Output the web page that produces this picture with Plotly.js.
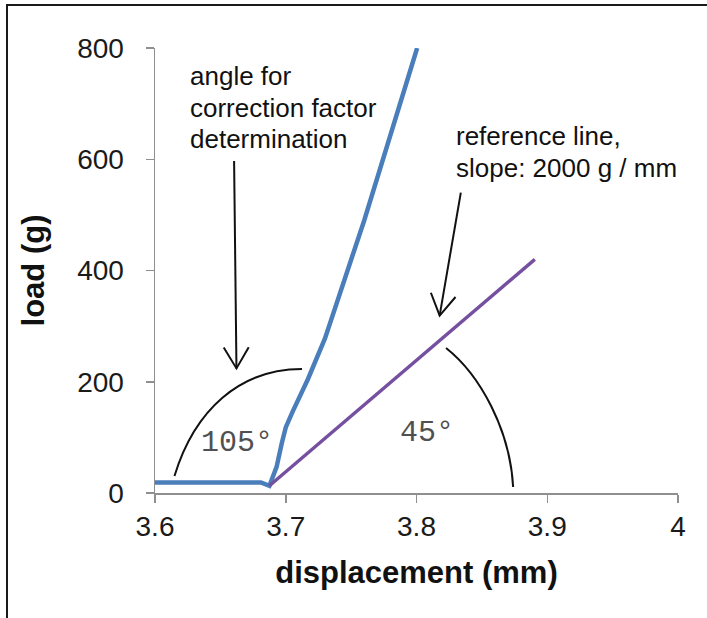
<!DOCTYPE html>
<html>
<head>
<meta charset="utf-8">
<script src="https://cdn.plot.ly/plotly-3.0.1.min.js"></script>
<style>
  html, body { margin: 0; padding: 0; background: #fff; }
  #wrap { position: relative; width: 707px; height: 618px; overflow: hidden; }
  #chart { position: absolute; left: 0; top: 0; width: 707px; height: 618px; }
  #frame { position: absolute; left: 6px; top: 4px; width: 710px; height: 620px;
           border-top: 2px solid #1a1a1a; border-left: 2px solid #1a1a1a; pointer-events: none; }
</style>
</head>
<body>
<div id="wrap">
  <div id="chart"></div>
  <div id="frame"></div>
</div>
<script>
// ---- data ----
const displacement = [3.600, 3.681, 3.6875, 3.6930, 3.6970, 3.7000, 3.7050, 3.7170, 3.7300, 3.7600, 3.8005];
const load         = [19,    19,    13,     47,     90,     118,    145,    205,    278,    490,    800];

const refDisplacement = [3.6875, 3.8905];
const refLoad         = [13,     420];

const xTickVals = [3.6, 3.7, 3.8, 3.9, 4];
const xTickText = ['3.6', '3.7', '3.8', '3.9', '4'];
const yTickVals = [0, 200, 400, 600, 800];
const yTickText = ['0', '200', '400', '600', '800'];

const xRange = [3.6, 4];
const yRange = [0, 800];

// annotation geometry (data units)
const arc105 = [[3.6149, 30.6], [3.6303, 149.2], [3.6648, 222.9], [3.7124, 222.9]];
const arc45  = [[3.8226, 260.7], [3.8487, 212.1], [3.8716, 113.3], [3.8739, 10.8]];
const arrowAngle = {from: [3.6605, 597], to: [3.6623, 224]};
const arrowRef   = {from: [3.8339, 540], to: [3.8177, 319]};

// ---- layout constants ----
const M = {l: 155, r: 29, t: 48, b: 125};
const W = 707 - M.l - M.r, H = 618 - M.t - M.b;
const SANS = 'Liberation Sans, Arial, sans-serif';

function toPx(p) { return [(p[0] - xRange[0]) / (xRange[1] - xRange[0]) * W, (yRange[1] - p[1]) / (yRange[1] - yRange[0]) * H]; }
function fromPx(q) { return [xRange[0] + q[0] / W * (xRange[1] - xRange[0]), yRange[1] - q[1] / H * (yRange[1] - yRange[0])]; }

function bezierPath(pts) {
  const s = pts.map(p => p[0] + ',' + p[1]);
  return 'M' + s[0] + ' C' + s[1] + ' ' + s[2] + ' ' + s[3];
}

function arrowShapes(a) {
  const f = toPx(a.from), t = toPx(a.to);
  const dx = t[0] - f[0], dy = t[1] - f[1];
  const len = Math.hypot(dx, dy), ux = dx / len, uy = dy / len;
  const back = 21, half = 12.5;
  const b = [t[0] - ux * back, t[1] - uy * back];
  const l = fromPx([b[0] + uy * half, b[1] - ux * half]);
  const r = fromPx([b[0] - uy * half, b[1] + ux * half]);
  const line = {color: '#111', width: 2};
  return [
    {type: 'path', xref: 'x', yref: 'y', path: 'M' + a.from.join(',') + ' L' + a.to.join(','), line: line},
    {type: 'path', xref: 'x', yref: 'y', path: 'M' + l.join(',') + ' L' + a.to.join(',') + ' L' + r.join(','), line: line}
  ];
}

const traces = [
  {x: displacement, y: load, type: 'scatter', mode: 'lines', name: 'load',
   line: {color: '#4a7ebb', width: 4.5}, hoverinfo: 'x+y'},
  {x: refDisplacement, y: refLoad, type: 'scatter', mode: 'lines', name: 'reference line',
   line: {color: '#7650a0', width: 3.4}, hoverinfo: 'x+y'}
];

const axisCommon = {
  showgrid: false, zeroline: false, showline: true,
  linecolor: '#8f8f8f', linewidth: 1.5,
  ticks: 'outside', ticklen: 8, tickcolor: '#8f8f8f', tickwidth: 1.5,
  tickfont: {family: SANS, size: 28, color: '#1a1a1a'},
  automargin: false, fixedrange: true
};

const shapes = [
  {type: 'path', xref: 'x', yref: 'y', path: bezierPath(arc105), line: {color: '#111', width: 2}},
  {type: 'path', xref: 'x', yref: 'y', path: bezierPath(arc45), line: {color: '#111', width: 2}}
].concat(arrowShapes(arrowAngle), arrowShapes(arrowRef));

const textFont = {family: SANS, size: 26, color: '#111'};
const degFont = {family: 'Liberation Mono, Courier New, monospace', size: 30, color: '#505050'};

const annotations = [
  {x: 3.6249, y: 749, text: 'angle for', xanchor: 'left'},
  {x: 3.6249, y: 692, text: 'correction factor', xanchor: 'left'},
  {x: 3.6249, y: 636, text: 'determination', xanchor: 'left'},
  {x: 3.8287, y: 641, text: 'reference line,', xanchor: 'left'},
  {x: 3.8287, y: 584, text: 'slope: 2000 g / mm', xanchor: 'left'}
].map(a => Object.assign({xref: 'x', yref: 'y', showarrow: false, yanchor: 'middle', font: textFont}, a))
.concat([
  {x: 3.6628, y: 90, text: '105°'},
  {x: 3.8077, y: 108, text: '45°'}
].map(a => Object.assign({xref: 'x', yref: 'y', showarrow: false, xanchor: 'center', yanchor: 'middle', font: degFont}, a)));

const layout = {
  width: 707, height: 618,
  margin: M,
  paper_bgcolor: '#fff', plot_bgcolor: '#fff',
  showlegend: false,
  xaxis: Object.assign({}, axisCommon, {
    range: xRange, tickmode: 'array', tickvals: xTickVals, ticktext: xTickText,
    ticklabelstandoff: 0,
    title: {text: 'displacement (mm)', font: {family: SANS, size: 31, color: '#111', weight: 700}, standoff: 20}
  }),
  yaxis: Object.assign({}, axisCommon, {
    range: yRange, tickmode: 'array', tickvals: yTickVals, ticktext: yTickText,
    ticklabelstandoff: 16,
    title: {text: 'load (g)', font: {family: SANS, size: 31, color: '#111', weight: 700}, standoff: 23}
  }),
  shapes: shapes,
  annotations: annotations
};

Plotly.newPlot('chart', traces, layout, {displayModeBar: false, staticPlot: true});
</script>
</body>
</html>
